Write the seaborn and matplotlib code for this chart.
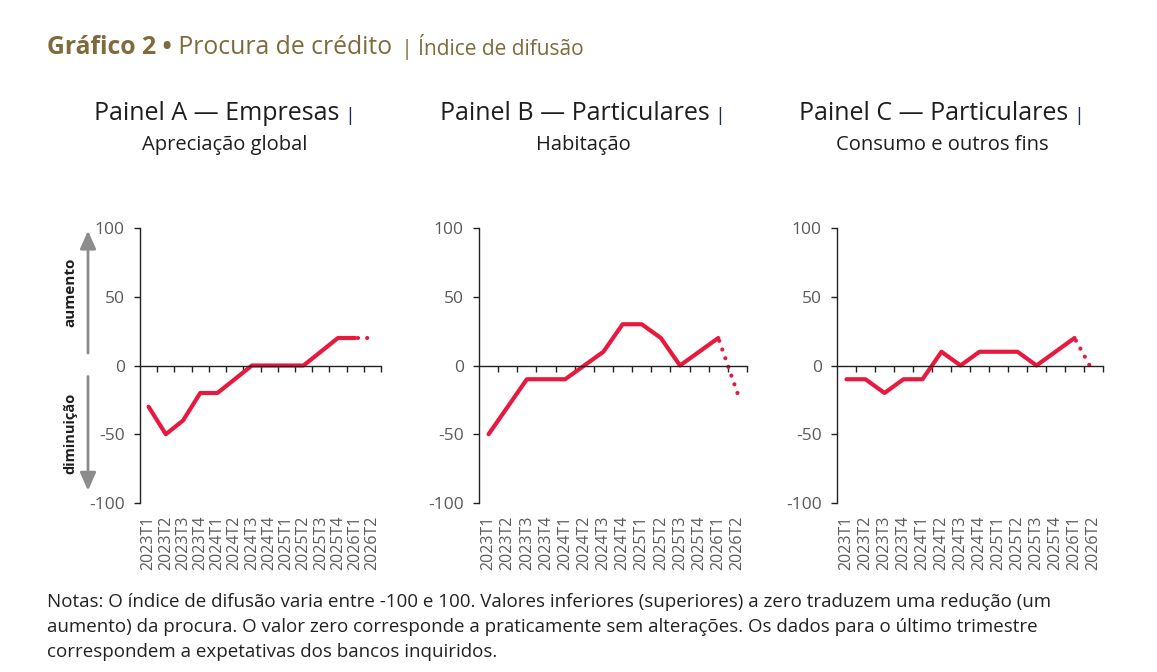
import numpy as np
import pandas as pd
import matplotlib
matplotlib.use("Agg")
import matplotlib.pyplot as plt
import matplotlib.transforms as mtransforms
import seaborn as sns

sns.set_theme(style="white")
plt.rcParams['font.family'] = ['Open Sans', 'DejaVu Sans']

# ---------------- data ----------------
categories = ["2023T1", "2023T2", "2023T3", "2023T4", "2024T1", "2024T2", "2024T3",
              "2024T4", "2025T1", "2025T2", "2025T3", "2025T4", "2026T1", "2026T2"]
empresas = [-30, -50, -40, -20, -20, -10, 0, 0, 0, 0, 10, 20, 20, 20]
habitacao = [-50, -30, -10, -10, -10, 0, 10, 30, 30, 20, 0, 10, 20, -20]
consumo = [-10, -10, -20, -10, -10, 10, 0, 10, 10, 10, 0, 10, 20, -5]
yticks = [-100, -50, 0, 50, 100]

panel_titles = ["Painel A \u2014 Empresas", "Painel B \u2014 Particulares", "Painel C \u2014 Particulares"]
panel_subtitles = ["Aprecia\u00e7\u00e3o global", "Habita\u00e7\u00e3o", "Consumo e outros fins"]
series = [empresas, habitacao, consumo]

RED = "#E8193F"
GOLD = "#7F6A3B"
DARK = "#1E1E1E"
NAVY = "#1B2A5C"
GRAY = "#5A5A5A"

W, H = 1157, 672
fig = plt.figure(figsize=(W / 100, H / 100), dpi=100)

# axes boxes in pixels (left, right)
boxes = [(140, 381), (479, 747), (837, 1103)]
ax_top, ax_bot = 228, 503
title_centers = [225, 583, 942]

x = np.arange(len(categories))
axes = []
for k, ((l, r), vals) in enumerate(zip(boxes, series)):
    ax = fig.add_axes([l / W, 1 - ax_bot / H, (r - l) / W, (ax_bot - ax_top) / H])
    axes.append(ax)
    df = pd.DataFrame({"x": x, "v": vals, "cat": categories})
    solid = df.iloc[:-1]
    dotted = df.iloc[-2:]
    sns.lineplot(data=solid, x="x", y="v", ax=ax, color=RED, linewidth=3.0,
                 solid_capstyle="round", solid_joinstyle="round", legend=False)
    sns.lineplot(data=dotted, x="x", y="v", ax=ax, color=RED, linewidth=3.0,
                 linestyle=(1.5, (0.01, 2.2)), dash_capstyle="round", legend=False)
    ax.set_xlim(-0.5, len(categories) - 0.5)
    ax.set_ylim(-100, 100)
    ax.set_xlabel("")
    ax.set_ylabel("")
    for s in ["top", "right"]:
        ax.spines[s].set_visible(False)
    ax.spines["left"].set_color("#222222")
    ax.spines["left"].set_linewidth(1.0)
    ax.spines["bottom"].set_position(("data", 0))
    ax.spines["bottom"].set_color("#222222")
    ax.spines["bottom"].set_linewidth(1.0)
    ax.set_yticks(yticks)
    ax.set_yticklabels([str(t) for t in yticks])
    ax.tick_params(axis="y", left=True, length=4, width=1, color="#222222",
                   pad=7, labelsize=12.5, labelcolor=GRAY)
    ax.set_xticks(x + 0.5)
    ax.set_xticklabels([])
    ax.tick_params(axis="x", bottom=True, length=4.5, width=1, color="#222222",
                   direction="out")
    sec = ax.secondary_xaxis(0)
    sec.set_xticks(x)
    sec.set_xticklabels(categories, rotation=90, fontsize=11.5, color=GRAY)
    sec.tick_params(length=0, pad=9)
    sec.spines["bottom"].set_visible(False)

    # panel titles
    cx = title_centers[k] / W
    t1 = fig.text(0, 0, panel_titles[k], fontsize=18, color=DARK)
    t2 = fig.text(0, 0, " |", fontsize=14, color=NAVY)
    fig.canvas.draw()
    r_ = fig.canvas.get_renderer()
    w1 = t1.get_window_extent(r_).width
    w2 = t2.get_window_extent(r_).width
    start = title_centers[k] - (w1 + w2) / 2
    t1.set_position((start / W, 1 - 114 / H))
    t1.set_va("center")
    t2.set_position(((start + w1) / W, 1 - 116 / H))
    t2.set_va("center")
    fig.text(cx, 1 - 145 / H, panel_subtitles[k], fontsize=14.5, color=DARK,
             ha="center", va="center")

# arrows and labels in panel A
axA = axes[0]
trans = mtransforms.blended_transform_factory(axA.transAxes, axA.transData)
ax_x = (88 - 140) / (381 - 140)
lab_x = (70 - 140) / (381 - 140)
arrow_kw = dict(arrowstyle="-|>,head_width=0.4,head_length=0.9", color="#8C8C8C", lw=2.0)
axA.annotate("", xy=(ax_x, 100), xytext=(ax_x, 7), xycoords=trans, textcoords=trans,
             arrowprops=arrow_kw, annotation_clip=False)
axA.annotate("", xy=(ax_x, -93), xytext=(ax_x, -6), xycoords=trans, textcoords=trans,
             arrowprops=arrow_kw, annotation_clip=False)
axA.text(lab_x, 53, "aumento", transform=trans, rotation=90, ha="center", va="center",
         fontsize=11, fontweight="bold", color=DARK, clip_on=False)
axA.text(lab_x, -49, "diminui\u00e7\u00e3o", transform=trans, rotation=90, ha="center",
         va="center", fontsize=10.5, fontweight="bold", color=DARK, clip_on=False)

# main title
fig.canvas.draw()
r_ = fig.canvas.get_renderer()
ty = 1 - 47 / H
a = fig.text(47 / W, ty, "Gr\u00e1fico 2 \u2022", fontsize=17.8, fontweight="bold",
             color=GOLD, va="center")
wa = a.get_window_extent(r_).width
b = fig.text((47 + wa) / W, ty, " Procura de cr\u00e9dito", fontsize=17.8, color=GOLD,
             va="center")
wb = b.get_window_extent(r_).width
fig.text((47 + wa + wb + 4) / W, ty, " | \u00cdndice de difus\u00e3o", fontsize=15,
         color=GOLD, va="center")

notes = ("Notas: O \u00edndice de difus\u00e3o varia entre -100 e 100. Valores inferiores "
         "(superiores) a zero traduzem uma redu\u00e7\u00e3o (um\n"
         "aumento) da procura. O valor zero corresponde a praticamente sem altera\u00e7\u00f5es. "
         "Os dados para o \u00faltimo trimestre\n"
         "correspondem a expetativas dos bancos inquiridos.")
fig.text(47 / W, 1 - 593 / H, notes, fontsize=13.5, color="#222222", va="top",
         linespacing=1.5)

fig.savefig("out.png", dpi=100, facecolor="white")
